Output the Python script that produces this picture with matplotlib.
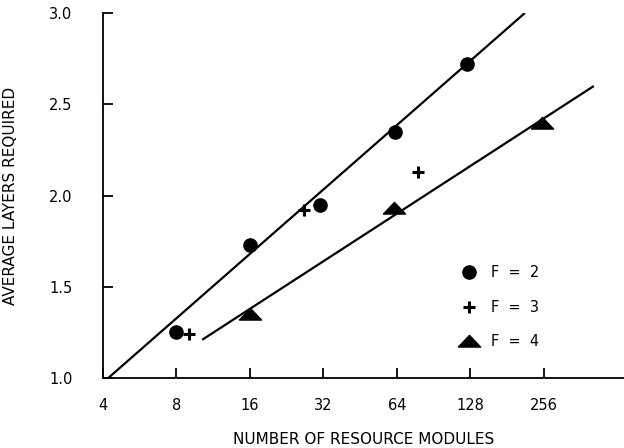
import matplotlib
matplotlib.use("Agg")
import matplotlib.pyplot as plt
from matplotlib.lines import Line2D
from matplotlib.ticker import FixedLocator, FixedFormatter, NullLocator

# measured points
f2_x = [8, 16, 31, 63, 124]
f2_y = [1.25, 1.73, 1.95, 2.35, 2.72]
f3_x = [9.0, 26.6, 78]
f3_y = [1.24, 1.92, 2.13]
f4_x = [16, 62, 252]
f4_y = [1.35, 1.93, 2.40]

# fitted lines (end points)
fit2_x = [4.2, 214]
fit2_y = [1.0, 3.0]
fit4_x = [10.2, 410]
fit4_y = [1.21, 2.60]

x_ticks = [4, 8, 16, 32, 64, 128, 256]
x_labels = ["4", "8", "16", "32", "64", "128", "256"]
y_ticks = [1.0, 1.5, 2.0, 2.5, 3.0]
y_labels = ["1.0", "1.5", "2.0", "2.5", "3.0"]

# wide flat triangle like the one in the figure
tri = [(-1.0, -0.5), (1.0, -0.5), (0.0, 0.55), (-1.0, -0.5)]

fig = plt.figure(figsize=(6.24, 4.48), dpi=100)
ax = fig.add_axes([0.165, 0.156, 0.835, 0.815])

ax.plot(fit2_x, fit2_y, color="black", lw=1.6, solid_capstyle="butt")
ax.plot(fit4_x, fit4_y, color="black", lw=1.6, solid_capstyle="butt")
ax.plot(f2_x, f2_y, "o", color="black", ms=9.5, ls="none")
ax.plot(f3_x, f3_y, "+", color="black", ms=9, mew=2.2, ls="none")
ax.plot(f4_x, f4_y, marker=tri, color="black", ms=16, ls="none")

ax.set_xscale("log", base=2)
ax.set_xlim(4, 545)
ax.set_ylim(1.0, 3.0)
ax.xaxis.set_major_locator(FixedLocator(x_ticks))
ax.xaxis.set_major_formatter(FixedFormatter(x_labels))
ax.xaxis.set_minor_locator(NullLocator())
ax.set_yticks(y_ticks)
ax.set_yticklabels(y_labels)

for s in ["top", "right"]:
    ax.spines[s].set_visible(False)
for s in ["left", "bottom"]:
    ax.spines[s].set_linewidth(1.3)

ax.tick_params(direction="in", length=7, width=1.3, labelsize=10.5)
ax.tick_params(axis="x", pad=14)
ax.tick_params(axis="y", pad=22)

ax.set_xlabel("NUMBER OF RESOURCE MODULES", fontsize=11, labelpad=14)
ax.set_ylabel("AVERAGE LAYERS REQUIRED", fontsize=11, labelpad=22)

handles = [
    Line2D([], [], marker="o", color="black", ms=9.5, ls="none"),
    Line2D([], [], marker="+", color="black", ms=9, mew=2.2, ls="none"),
    Line2D([], [], marker=tri, color="black", ms=16, ls="none"),
]
ax.legend(handles, ["F  =  2", "F  =  3", "F  =  4"], frameon=False,
          loc="upper left", bbox_to_anchor=(0.681, 0.31), fontsize=10.5,
          borderpad=0, borderaxespad=0, handlelength=1.5,
          labelspacing=1.35, handletextpad=0.8)

fig.savefig("out.png", dpi=100)
